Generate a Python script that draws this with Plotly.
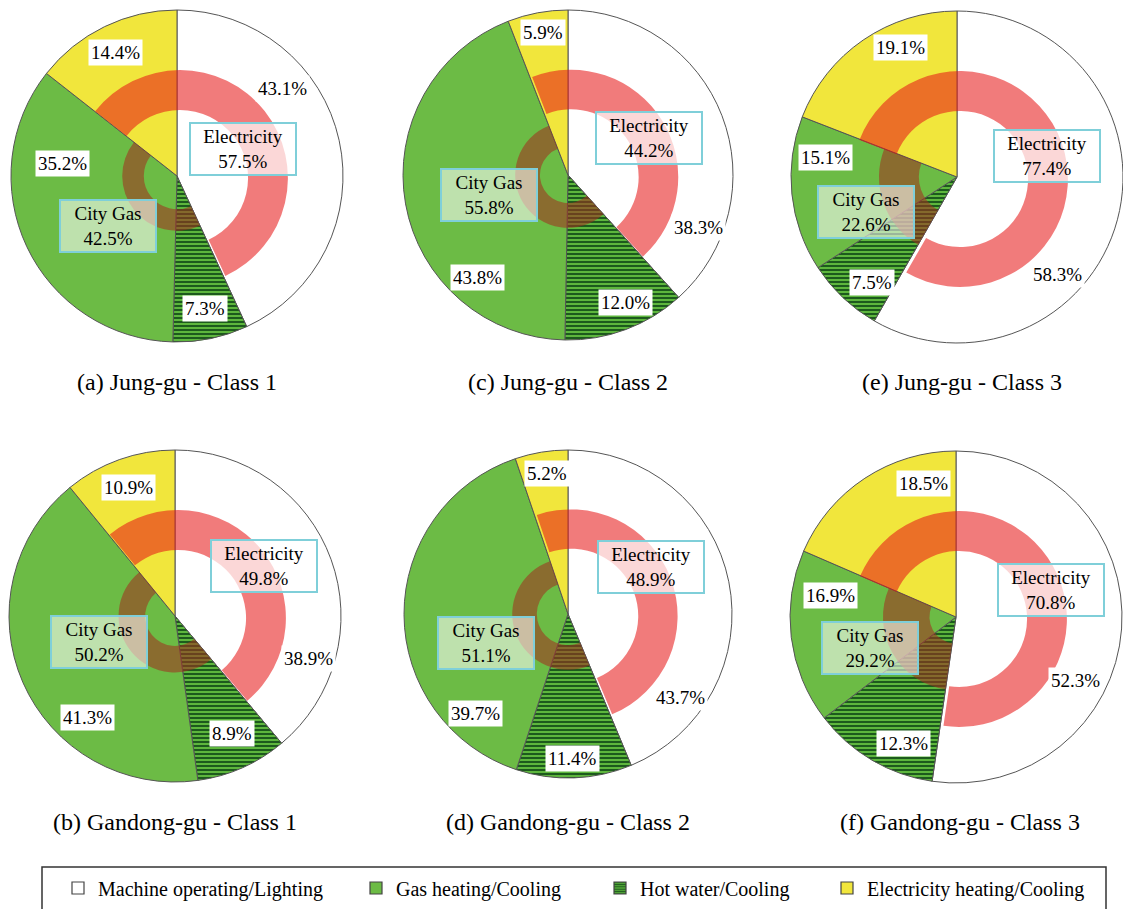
import plotly.graph_objects as go

# ---------------- data ----------------
panels = ["a", "b", "c", "d", "e", "f"]
captions = ["(a) Jung-gu - Class 1", "(b) Gandong-gu - Class 1",
            "(c) Jung-gu - Class 2", "(d) Gandong-gu - Class 2",
            "(e) Jung-gu - Class 3", "(f) Gandong-gu - Class 3"]
categories = ["Machine operating/Lighting", "Hot water/Cooling",
              "Gas heating/Cooling", "Electricity heating/Cooling"]
legend_order = ["Machine operating/Lighting", "Gas heating/Cooling",
                "Hot water/Cooling", "Electricity heating/Cooling"]
machine_lighting = [43.1, 38.9, 38.3, 43.7, 58.3, 52.3]
hot_water = [7.3, 8.9, 12.0, 11.4, 7.5, 12.3]
gas_heating = [35.2, 41.3, 43.8, 39.7, 15.1, 16.9]
elec_heating = [14.4, 10.9, 5.9, 5.2, 19.1, 18.5]
electricity = [57.5, 49.8, 44.2, 48.9, 77.4, 70.8]
city_gas = [42.5, 50.2, 55.8, 51.1, 22.6, 29.2]

# ---------------- layout / style ----------------
W, H = 1123, 909
FONT = "Liberation Serif"
# pie centre (px) and radius (px)
geom = {"a": (177, 176, 166), "b": (175, 616, 166), "c": (568, 175, 165),
        "d": (568, 614, 164), "e": (957, 177, 166), "f": (956, 617, 166)}
# anchor used for the text labels (px)
label_center = {"a": (177, 176), "b": (175, 616), "c": (568, 175),
                "d": (568, 614), "e": (962, 177), "f": (960, 617)}
# city-gas ring radii as fraction of pie radius (outer, inner)
gas_ring = {"a": (0.33, 0.20), "b": (0.34, 0.18), "c": (0.32, 0.17),
            "d": (0.34, 0.19), "e": (0.47, 0.23), "f": (0.44, 0.16)}
elec_ring = (0.65, 0.41)
# label offsets from anchor (px): machine, hot, gas, elecheat, Electricity, City Gas
label_off = {
    "a": [(105, -88), (28, 132), (-114, -13), (-62, -123), (66, -27), (-69, 50)],
    "b": [(133, 42), (57, 117), (-88, 101), (-47, -129), (89, -50), (-76, 26)],
    "c": [(130, 53), (57, 128), (-91, 102), (-25, -142), (81, -37), (-79, 20)],
    "d": [(112, 83), (4, 144), (-93, 99), (-21, -141), (83, -47), (-82, 29)],
    "e": [(95, 98), (-90, 106), (-137, -20), (-62, -129), (85, -21), (-96, 35)],
    "f": [(115, 63), (-57, 126), (-130, -22), (-37, -134), (91, -27), (-90, 31)],
}
caption_y = {"a": 382, "c": 382, "e": 382, "b": 822, "d": 822, "f": 822}
# legend text start (px) for each legend entry, and legend row centre
legend_text_x = [98, 396, 640, 867]
legend_y = 888

WHITE = "#ffffff"
GREEN = "#6cbb45"
HATCH_BG = "#5db63d"
HATCH_FG = "#1d5a1d"
YELLOW = "#f1e63c"
colors = {"Machine operating/Lighting": WHITE, "Hot water/Cooling": HATCH_BG,
          "Gas heating/Cooling": GREEN, "Electricity heating/Cooling": YELLOW}
patterns = {"Machine operating/Lighting": "", "Hot water/Cooling": "-",
            "Gas heating/Cooling": "", "Electricity heating/Cooling": ""}
RED_RING = "rgba(230,22,22,0.57)"
BROWN_RING = "rgba(162,47,32,0.57)"
BOX_BORDER = "#7fcfd9"


def dom(cx, cy, r):
    x0, x1 = max(0.0, (cx - r) / W), min(1.0, (cx + r) / W)
    y0, y1 = max(0.0, 1 - (cy + r) / H), min(1.0, 1 - (cy - r) / H)
    return dict(x=[x0, x1], y=[y0, y1])


def px(x, y):
    return x / W, 1 - y / H


def note(x, y, text, size, **kw):
    xx, yy = px(x, y)
    d = dict(x=xx, y=yy, xref="paper", yref="paper", showarrow=False,
             xanchor="center", yanchor="middle", text=text,
             font=dict(family=FONT, size=size, color="black"))
    d.update(kw)
    return d


fig = go.Figure()
annotations = []

for i, p in enumerate(panels):
    cx, cy, R = geom[p]
    vals = [machine_lighting[i], hot_water[i], gas_heating[i], elec_heating[i]]
    fig.add_trace(go.Pie(
        labels=categories, values=vals, sort=False, direction="clockwise", rotation=0,
        domain=dom(cx, cy, R), textinfo="none", hoverinfo="label+value",
        showlegend=False,
        marker=dict(colors=[colors[c] for c in categories],
                    line=dict(color="#555555", width=1),
                    pattern=dict(shape=[patterns[c] for c in categories],
                                 fgcolor=HATCH_FG, bgcolor=[colors[c] for c in categories],
                                 fillmode="replace", size=4, solidity=0.5)),
    ))
    start = -elec_heating[i] * 3.6
    # electricity ring
    ro, ri = elec_ring
    fig.add_trace(go.Pie(
        labels=["Electricity", "City Gas"], values=[electricity[i], city_gas[i]],
        sort=False, direction="clockwise", rotation=start,
        domain=dom(cx + 3, cy + 2, R * ro), hole=ri / ro, textinfo="none",
        hoverinfo="skip", showlegend=False,
        marker=dict(colors=[RED_RING, "rgba(0,0,0,0)"], line=dict(width=0)),
    ))
    # city gas ring
    go_, gi = gas_ring[p]
    fig.add_trace(go.Pie(
        labels=["Electricity ", "City Gas "], values=[electricity[i], city_gas[i]],
        sort=False, direction="clockwise", rotation=start,
        domain=dom(cx, cy, R * go_), hole=gi / go_, textinfo="none",
        hoverinfo="skip", showlegend=False,
        marker=dict(colors=["rgba(0,0,0,0)", BROWN_RING], line=dict(width=0)),
    ))

    lx, ly = label_center[p]
    offs = label_off[p]
    for k, v in enumerate(vals):
        annotations.append(note(lx + offs[k][0], ly + offs[k][1], f"{v:.1f}%", 19,
                                bgcolor="white", borderpad=2))
    annotations.append(note(lx + offs[4][0], ly + offs[4][1],
                            f"Electricity<br>{electricity[i]:.1f}%", 19,
                            bgcolor="rgba(255,255,255,0.7)", bordercolor=BOX_BORDER,
                            borderwidth=2, width=102, height=48))
    annotations.append(note(lx + offs[5][0], ly + offs[5][1],
                            f"City Gas<br>{city_gas[i]:.1f}%", 19,
                            bgcolor="rgba(255,255,255,0.56)", bordercolor=BOX_BORDER,
                            borderwidth=2, width=92, height=48))
    annotations.append(note(lx, caption_y[p], captions[i], 24))

# legend entries (dummy bars so that patterns show in the legend), one legend each
legend_layouts = {}
for j, c in enumerate(legend_order):
    lname = "legend" if j == 0 else f"legend{j + 1}"
    fig.add_trace(go.Bar(
        x=[None], y=[None], name=c, showlegend=True, legend=lname,
        marker=dict(color=colors[c], line=dict(color="#444444", width=1.2),
                    pattern=dict(shape=patterns[c], fgcolor=HATCH_FG, bgcolor=colors[c],
                                 fillmode="replace", size=3, solidity=0.5)),
    ))
    legend_layouts[lname] = dict(
        orientation="h", x=(legend_text_x[j] - 40) / W, xanchor="left",
        y=1 - legend_y / H, yanchor="middle",
        font=dict(family=FONT, size=20, color="black"),
        bgcolor="rgba(0,0,0,0)", borderwidth=0, itemclick=False, itemdoubleclick=False)

fig.update_layout(
    width=W, height=H, margin=dict(l=0, r=0, t=0, b=0),
    paper_bgcolor="white", plot_bgcolor="rgba(0,0,0,0)",
    xaxis=dict(visible=False), yaxis=dict(visible=False),
    annotations=annotations,
    showlegend=True,
    shapes=[dict(type="rect", xref="paper", yref="paper",
                 x0=42 / W, x1=1106 / W, y0=-0.02, y1=1 - 867 / H,
                 line=dict(color="#333333", width=1.5))],
    **legend_layouts,
)

fig.write_html("out.html", config={"displayModeBar": False},
               post_script="document.body.style.margin='0';"
                           "document.body.style.overflow='hidden';")
